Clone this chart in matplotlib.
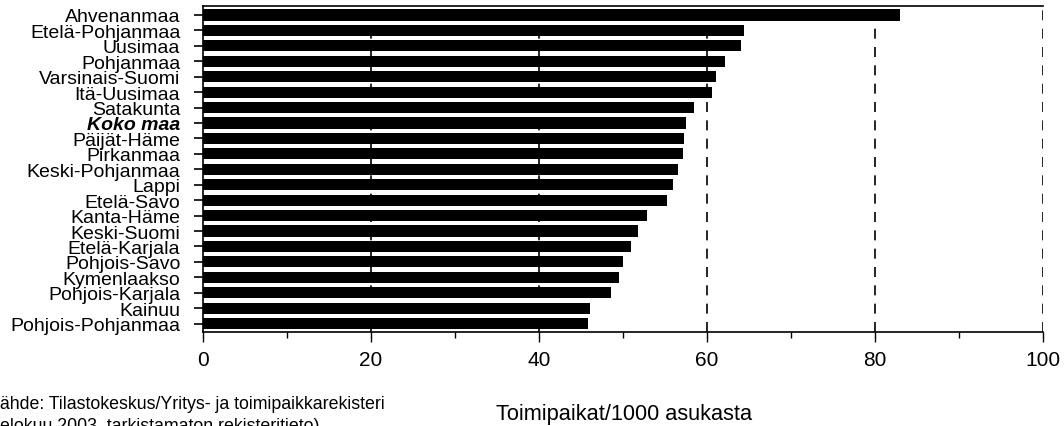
import matplotlib
matplotlib.use("Agg")
import matplotlib.pyplot as plt

plt.rcParams['font.family'] = ['Liberation Sans', 'DejaVu Sans']

regions = ["Ahvenanmaa", "Etelä-Pohjanmaa", "Uusimaa", "Pohjanmaa", "Varsinais-Suomi",
           "Itä-Uusimaa", "Satakunta", "Koko maa", "Päijät-Häme", "Pirkanmaa",
           "Keski-Pohjanmaa", "Lappi", "Etelä-Savo", "Kanta-Häme", "Keski-Suomi",
           "Etelä-Karjala", "Pohjois-Savo", "Kymenlaakso", "Pohjois-Karjala", "Kainuu",
           "Pohjois-Pohjanmaa"]
values = [83.0, 64.4, 64.0, 62.1, 61.1, 60.6, 58.5, 57.5, 57.3, 57.1,
          56.5, 56.0, 55.2, 52.9, 51.8, 50.9, 50.0, 49.5, 48.6, 46.1, 45.8]
xticks = [0, 20, 40, 60, 80, 100]

fig = plt.figure(figsize=(10.64, 4.27), dpi=100)
ax = fig.add_axes([0.191, 0.22, 0.789, 0.7635])

ypos = list(range(len(regions)))[::-1]
ax.barh(ypos, values, height=0.72, color='black', zorder=2)
ax.set_ylim(-0.55, len(regions) - 0.42)
ax.set_xlim(0, 100)

ax.set_yticks(ypos)
ax.set_yticklabels(regions, fontsize=14)
for lbl in ax.get_yticklabels():
    if lbl.get_text() == "Koko maa":
        lbl.set_fontweight('bold')
        lbl.set_fontstyle('italic')
ax.tick_params(axis='y', length=6.5, width=1.2, pad=10, color='black')

ax.set_xticks(xticks)
ax.set_xticklabels([str(t) for t in xticks], fontsize=15)
ax.set_xticks([10, 30, 50, 70, 90], minor=True)
ax.tick_params(axis='x', which='major', direction='out', length=7, width=1, pad=6)
ax.tick_params(axis='x', which='minor', direction='out', length=4, width=1)

for g in [20, 40, 60, 80, 100]:
    ax.axvline(g, color='black', linestyle=(0, (6, 5)), linewidth=1.2, zorder=1)

ax.spines['right'].set_visible(False)
for s in ['top', 'left', 'bottom']:
    ax.spines[s].set_linewidth(1.2)

fig.text(-0.009, 0.043, "Lähde: Tilastokeskus/Yritys- ja toimipaikkarekisteri",
         fontsize=12.75, ha='left', va='baseline')
fig.text(-0.006, -0.010, "(elokuu 2003, tarkistamaton rekisteritieto)",
         fontsize=12.75, ha='left', va='baseline')
fig.text(0.466, 0.017, "Toimipaikat/1000 asukasta", fontsize=15.7, ha='left', va='baseline')

fig.savefig("out.png", dpi=100)
